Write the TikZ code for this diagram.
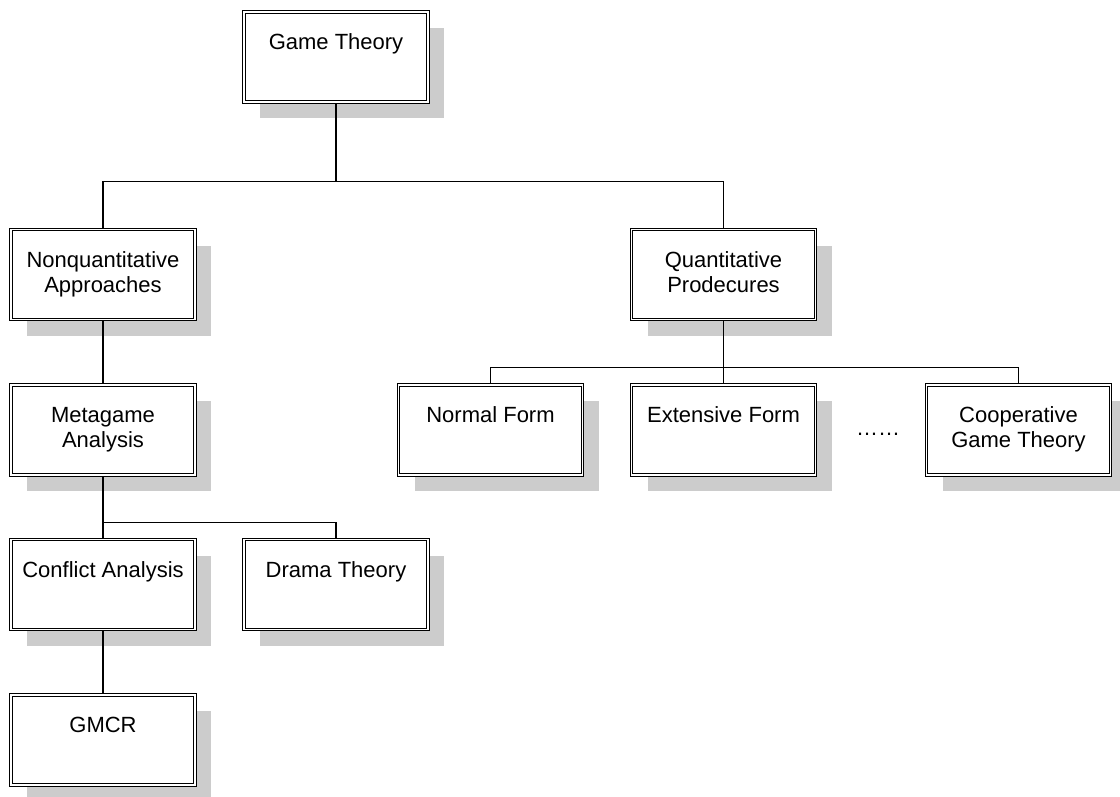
\documentclass[tikz,border=0pt]{standalone}
\usepackage{fontspec}
\setmainfont{Liberation Sans}
\usetikzlibrary{shadows}
\definecolor{shadowgray}{RGB}{204,204,204}
\begin{document}
\begin{tikzpicture}[x=1pt,y=-1pt,
  box/.style={draw=black, line width=0.9pt, double=white, double distance=1.6pt,
    fill=white, minimum width=184pt, minimum height=90pt, inner sep=0pt, outer sep=1.7pt,
    drop shadow={shadow xshift=16pt, shadow yshift=-16pt, fill=shadowgray, opacity=1}},
  lbl/.style={anchor=north, align=center, inner sep=0pt, font=\fontsize{22}{25}\selectfont, yshift=-23.5pt},
  link/.style={draw=black, line width=1.2pt}]
\useasboundingbox (0,0) rectangle (1120,797);

% boxes
\node[box] (gt) at (336,57) {};
\node[box] (nq) at (103,274.5) {};
\node[box] (qp) at (723.5,274.5) {};
\node[box] (mg) at (103,430) {};
\node[box] (nf) at (490.5,430) {};
\node[box] (ef) at (723.5,430) {};
\node[box] (cg) at (1018.5,430) {};
\node[box] (ca) at (103,584.5) {};
\node[box] (dt) at (336,584.5) {};
\node[box] (gm) at (103,740) {};

% labels
\node[lbl] (gtl) at (gt.north) {Game Theory};
\node[lbl] (nql) at (nq.north) {Nonquantitative\\Approaches};
\node[lbl] (qpl) at (qp.north) {Quantitative\\Prodecures};
\node[lbl] (mgl) at (mg.north) {Metagame\\Analysis};
\node[lbl] (nfl) at (nf.north) {Normal Form};
\node[lbl] (efl) at (ef.north) {Extensive Form};
\node[lbl] (cgl) at (cg.north) {Cooperative\\Game Theory};
\node[lbl] (cal) at (ca.north) {Conflict Analysis};
\node[lbl] (dtl) at (dt.north) {Drama Theory};
\node[lbl] (gml) at (gm.north) {GMCR};
\node[font=\fontsize{22}{25}\selectfont, inner sep=0pt] (dots) at (878,434) {……};

% tree connectors
\draw[link] (gt.south) -- ++(0,77.5) -| (nq.north);
\draw[link] (gt.south) -- ++(0,77.5) -| (qp.north);
\draw[link] (qp.south) -- ++(0,46) -| (nf.north);
\draw[link] (qp.south) -- (ef.north);
\draw[link] (qp.south) -- ++(0,46) -| (cg.north);
\draw[link] (nq.south) -- (mg.north);
\draw[link] (mg.south) -- ++(0,46) -| (dt.north);
\draw[link] (mg.south) -- (ca.north);
\draw[link] (ca.south) -- (gm.north);
\end{tikzpicture}
\end{document}
